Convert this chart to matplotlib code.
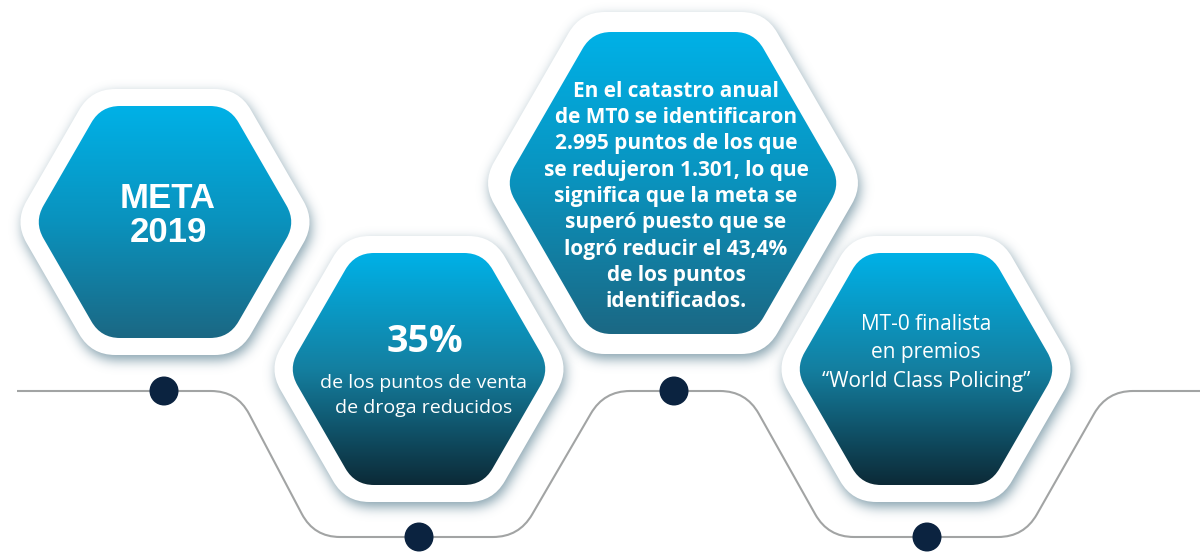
import numpy as np
import matplotlib
matplotlib.use("Agg")
import matplotlib.pyplot as plt
from matplotlib.path import Path
from matplotlib.patches import PathPatch, Circle
from matplotlib.colors import LinearSegmentedColormap

# ---------------- content ----------------
hex_texts_1 = ["META", "2019"]
hex_texts_2_title = "35%"
hex_texts_2_body = ["de los puntos de venta", "de droga reducidos"]
hex_texts_3 = ["En el catastro anual", "de MT0 se identificaron", "2.995 puntos de los que",
               "se redujeron 1.301, lo que", "significa que la meta se", "superó puesto que se",
               "logró reducir el 43,4%", "de los puntos", "identificados."]
hex_texts_4 = ["MT-0 finalista", "en premios", "\u201cWorld Class Policing\u201d"]

# ---------------- layout (pixels) ----------------
W, H = 1200, 553
# (cx, cy, half-width, half-height, border, gradient colours)
hexes = [
    (165, 222, 131, 116, 17, ["#00b1e7", "#0a92bd", "#1b6884"]),
    (419, 369, 131, 116, 17, ["#00b1e7", "#147fa0", "#0c2a37"]),
    (673, 183, 168, 151, 20, ["#00b1e7", "#0a92bd", "#1b6884"]),
    (926, 369, 131, 116, 17, ["#00b1e7", "#147fa0", "#0c2a37"]),
]
line_pts = [(17, 391), (237, 391), (314, 537), (519, 537), (604, 391),
            (746, 391), (828, 537), (1024, 537), (1107, 391), (1200, 391)]
dots = [(164, 391), (419, 537), (674, 391), (927, 537)]

fig = plt.figure(figsize=(12, 5.53), dpi=100)
ax = fig.add_axes([0, 0, 1, 1])
ax.set_xlim(0, W)
ax.set_ylim(H, 0)
ax.axis("off")


def hex_vertices(cx, cy, hw, hh):
    a = hw - hh / np.tan(np.radians(60))
    return [(cx - a, cy - hh), (cx + a, cy - hh), (cx + hw, cy),
            (cx + a, cy + hh), (cx - a, cy + hh), (cx - hw, cy)]


def rounded_path(pts, r, closed=True):
    pts = [np.array(p, float) for p in pts]
    verts, codes = [], []
    n = len(pts)
    rng = range(n) if closed else range(1, n - 1)
    if not closed:
        verts.append(pts[0]); codes.append(Path.MOVETO)
    first = True
    for i in rng:
        V = pts[i]
        P = pts[i - 1]
        N = pts[(i + 1) % n]
        dp = (P - V) / np.linalg.norm(P - V)
        dn = (N - V) / np.linalg.norm(N - V)
        A = V + r * dp
        B = V + r * dn
        if closed and first:
            verts.append(A); codes.append(Path.MOVETO)
            first = False
        else:
            verts.append(A); codes.append(Path.LINETO)
        verts.append(V); codes.append(Path.CURVE3)
        verts.append(B); codes.append(Path.CURVE3)
    if closed:
        verts.append(verts[0]); codes.append(Path.CLOSEPOLY)
    else:
        verts.append(pts[-1]); codes.append(Path.LINETO)
    return Path(np.array(verts), codes)


yy, xx = np.mgrid[0:H, 0:W]
grid = np.column_stack([xx.ravel() + 0.5, yy.ravel() + 0.5])


def gauss_blur(img, sigma):
    k = int(3 * sigma)
    x = np.arange(-k, k + 1)
    g = np.exp(-x ** 2 / (2 * sigma ** 2)); g /= g.sum()
    out = np.apply_along_axis(lambda m: np.convolve(m, g, mode="same"), 1, img)
    out = np.apply_along_axis(lambda m: np.convolve(m, g, mode="same"), 0, out)
    return out


# ---------------- connector line ----------------
lp = rounded_path(line_pts, 26, closed=False)
ax.add_patch(PathPatch(lp, facecolor="none", edgecolor="#a2a4a4", lw=1.5, zorder=1))

# ---------------- hexagons ----------------
for k, (cx, cy, hw, hh, bd, cols) in enumerate(hexes):
    z = 2 + k * 4
    outer = hex_vertices(cx, cy, hw + bd * 1.15, hh + bd)
    inner = hex_vertices(cx, cy, hw, hh)
    op = rounded_path(outer, 24)
    ip = rounded_path(inner, 19)
    sh_path = op.transformed(matplotlib.transforms.Affine2D().translate(2, 5))
    mask = sh_path.contains_points(grid).reshape(H, W).astype(float)
    mask = gauss_blur(mask, 6)
    rgba = np.zeros((H, W, 4))
    rgba[..., 0] = 0.40; rgba[..., 1] = 0.54; rgba[..., 2] = 0.60
    rgba[..., 3] = np.clip(mask * 0.8, 0, 1)
    ax.imshow(rgba, extent=(0, W, H, 0), zorder=z, interpolation="bilinear")
    ax.add_patch(PathPatch(op, facecolor="white", edgecolor="none", zorder=z + 1))
    cmap = LinearSegmentedColormap.from_list("g%d" % k, cols)
    grad = np.linspace(0, 1, 256).reshape(-1, 1)
    im = ax.imshow(grad, cmap=cmap, aspect="auto",
                   extent=(cx - hw, cx + hw, cy + hh, cy - hh), zorder=z + 2)
    clip = PathPatch(ip, facecolor="none", edgecolor="none", transform=ax.transData)
    ax.add_patch(clip)
    im.set_clip_path(clip)

ax.set_xlim(0, W)
ax.set_ylim(H, 0)

# ---------------- dots ----------------
for (x, y) in dots:
    ax.add_patch(Circle((x, y), 14.5, facecolor="#0b2340", edgecolor="none", zorder=30))

# ---------------- texts ----------------
tz = 40
for txt, yb in zip(hex_texts_1, [208, 242]):
    ax.text(168, yb, txt, ha="center", va="baseline", color="white", fontsize=25,
            fontweight="bold", family="Liberation Sans", zorder=tz)

ax.text(425, 352, hex_texts_2_title, ha="center", va="baseline", color="white", fontsize=27,
        fontweight="bold", family="Open Sans", zorder=tz)
for txt, yb in zip(hex_texts_2_body, [388, 413]):
    ax.text(424, yb, txt, ha="center", va="baseline", color="white", fontsize=14,
            family="Open Sans", zorder=tz)

for i, txt in enumerate(hex_texts_3):
    ax.text(676, 97 + i * 26.25, txt, ha="center", va="baseline", color="white", fontsize=15,
            fontweight="bold", family="Open Sans", zorder=tz)

for txt, yb in zip(hex_texts_4, [330, 358, 387]):
    ax.text(926, yb, txt, ha="center", va="baseline", color="white", fontsize=15,
            family="Open Sans", zorder=tz)

fig.savefig("out.png", dpi=100)
